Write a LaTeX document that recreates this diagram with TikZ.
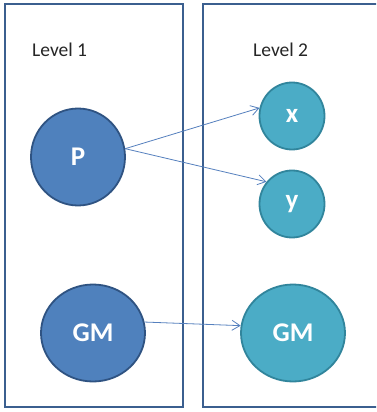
\documentclass[tikz,border=0pt]{standalone}
\usepackage{fontspec}
\setmainfont{Carlito}
\usetikzlibrary{arrows.meta,shapes.geometric}
\definecolor{boxline}{HTML}{3B5F8F}
\definecolor{bluefill}{HTML}{4F81BD}
\definecolor{blueline}{HTML}{2F5382}
\definecolor{aquafill}{HTML}{4BACC6}
\definecolor{aqualine}{HTML}{31859C}
\definecolor{arrowcol}{HTML}{5580BE}
\tikzset{
  levelbox/.style={draw=boxline, line width=2.8pt},
  lvl/.style={font=\fontsize{19.5}{22}\selectfont, text=black!85, inner sep=0pt},
  bluenode/.style={ellipse, draw=blueline, fill=bluefill, line width=1.8pt, text=white, font=\fontsize{27}{29}\selectfont\bfseries, inner sep=0pt},
  aquanode/.style={ellipse, draw=aqualine, fill=aquafill, line width=1.8pt, text=white, font=\fontsize{27}{29}\selectfont\bfseries, inner sep=0pt},
  link/.style={draw=arrowcol, line width=0.8pt, -{Straight Barb[length=8pt,width=10pt]}}
}
\begin{document}
\begin{tikzpicture}[x=1pt,y=-1pt]
\useasboundingbox (0,0) rectangle (376,412);
\clip (0,0) rectangle (376,412);
\fill[white] (0,0) rectangle (376,412);
\draw[levelbox] (5,4) rectangle (183,407);
\draw[levelbox] (203,4) rectangle (385,407);
\node[lvl, anchor=west] (l1) at (32,50) {Level 1};
\node[lvl, anchor=west] (l2) at (253,50) {Level 2};
\node[bluenode, minimum width=94pt, minimum height=97pt] (P) at (78,157) {P};
\node[bluenode, minimum width=104pt, minimum height=97pt] (GMa) at (93,333) {GM};
\node[aquanode, minimum width=65pt, minimum height=67pt] (x) at (292,116) {x};
\node[aquanode, minimum width=65pt, minimum height=67pt] (y) at (292,204) {y};
\node[aquanode, minimum width=104pt, minimum height=97pt] (GMb) at (293,333) {GM};
\draw[link] (P.10) -- (x.166);
\draw[link] (P.10) -- (y.139);
\draw[link] (GMa.12) -- (GMb.172);
\end{tikzpicture}
\end{document}
